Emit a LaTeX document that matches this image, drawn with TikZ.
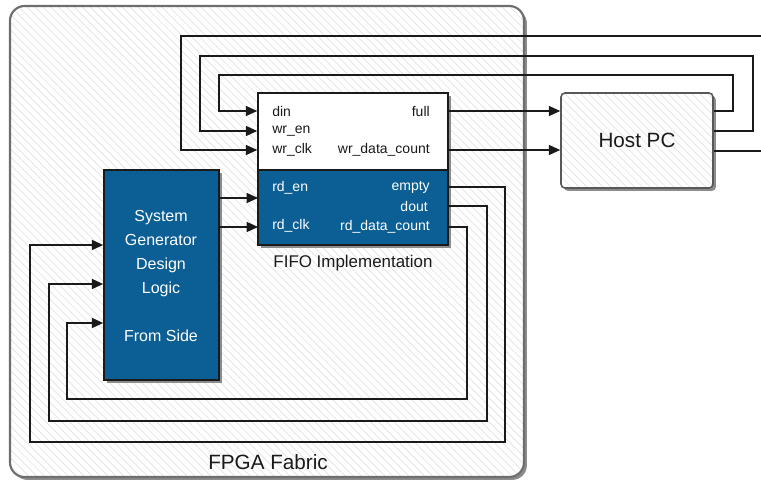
\documentclass[tikz,border=0pt]{standalone}
\usepackage{fontspec}
\setmainfont{Liberation Sans}
\usepackage{tikz}
\usetikzlibrary{arrows.meta,positioning,calc,fit,patterns.meta,shadows}
\definecolor{Blue}{HTML}{0B5F95}
\definecolor{Frame}{HTML}{6E6E6E}
\definecolor{Hatch}{HTML}{E2E2E2}
\definecolor{Ink}{HTML}{1A1A1A}

\begin{document}
\begin{tikzpicture}[x=0.75pt,y=-0.75pt,
    shd/.style={drop shadow={shadow xshift=2.2pt,shadow yshift=-2.2pt,fill=black!45,opacity=1}},
    hatch/.style={pattern={Lines[angle=-45,distance=4.2pt,line width=0.5pt]},pattern color=Hatch},
    box/.style={draw=Ink,line width=1.2pt,inner sep=0pt,shd},
    area/.style={shd,preaction={fill=white},preaction={hatch},inner sep=0pt},
    pin/.style={font=\fontsize{10.5}{12}\selectfont,inner sep=0pt,text=Ink},
    wpin/.style={pin,text=white},
    lbl/.style={font=\fontsize{15.5}{18}\selectfont,inner sep=0pt,text=Ink},
    w/.style={line width=1.1pt,draw=Ink},
    a/.style={w,-{Triangle[length=8.5pt,width=7.5pt]}}]
    \useasboundingbox (0,0) rectangle (761,479);
    % fabric and host
    \node[area,fit={(10,6) (524,477)},draw=Frame,line width=1.6pt,rounded corners=11pt] (fpga) {};
    \node[lbl] (fpgalbl) at (268,462) {FPGA Fabric};
    \node[area,fit={(561,93) (713,188)},draw=Frame!80!black,line width=1.2pt,rounded corners=3pt] (host) {};
    \node[lbl] (hostlbl) at (host.center) {Host PC};
    % fifo
    \node[box,fill=white,fit={(258,93) (448,245)}] (fifo) {};
    \node[draw=Ink,line width=1.2pt,inner sep=0pt,fill=Blue,fit={(258,170) (448,245)}] (fifob) {};
    \node[font=\fontsize{12.7}{15}\selectfont,inner sep=0pt,text=Ink,below=7pt of fifo] (fifolbl) {FIFO Implementation};
    \node[pin,anchor=west] (din) at (272,111) {din};
    \node[pin,anchor=west] (wren) at (272,131) {wr\_en};
    \node[pin,anchor=west] (wrclk) at (272,150) {wr\_clk};
    \node[pin,anchor=east] (full) at (430,111) {full};
    \node[pin,anchor=east] (wrcnt) at (430,150) {wr\_data\_count};
    \node[wpin,anchor=west] (rden) at (272,188) {rd\_en};
    \node[wpin,anchor=west] (rdclk) at (272,226) {rd\_clk};
    \node[wpin,anchor=east] (empty) at (430,187) {empty};
    \node[wpin,anchor=east] (dout) at (428,206) {dout};
    \node[wpin,anchor=east] (rdcnt) at (430,227) {rd\_data\_count};
    % sysgen
    \node[box,fill=Blue,fit={(104,170) (219,380)}] (sysgen) {};
    \node[font=\fontsize{12}{18}\selectfont,text=white,align=center,inner sep=0pt] (sglbl) at (161,276)
          {System\\Generator\\Design\\Logic\\[18pt]From Side};
    \coordinate (ren) at (258,198);
    \coordinate (rclk) at (258,227);
    \coordinate (clkin) at (761,36);
    \coordinate (clkout) at (761,151);
    % write side
    \draw[a] (fifo.east |- full) -- (host.west |- full);
    \draw[a] (fifo.east |- wrcnt) -- (host.west |- wrcnt);
    \draw[a] (host.east |- din) -| (733,75) -| (219,111) -- (fifo.west |- din);
    \draw[a] (host.east |- wren) -| (753,56) -| (200,131) -- (fifo.west |- wren);
    \draw[a] (clkin) -| (181,150) -- (fifo.west |- wrclk);
    \draw[w] (host.east |- 0,151) -- (clkout);
    % read side
    \draw[a] (sysgen.east |- ren) -- (ren);
    \draw[a] (sysgen.east |- rclk) -- (rclk);
    \draw[a] (fifo.east |- empty) -| (505,442) -| (30,245) -- (sysgen.west |- 0,245);
    \draw[a] (fifo.east |- dout) -| (487,421) -| (49,284) -- (sysgen.west |- 0,284);
    \draw[a] (fifo.east |- rdcnt) -| (467,399) -| (67,323) -- (sysgen.west |- 0,323);
\end{tikzpicture}
\end{document}
